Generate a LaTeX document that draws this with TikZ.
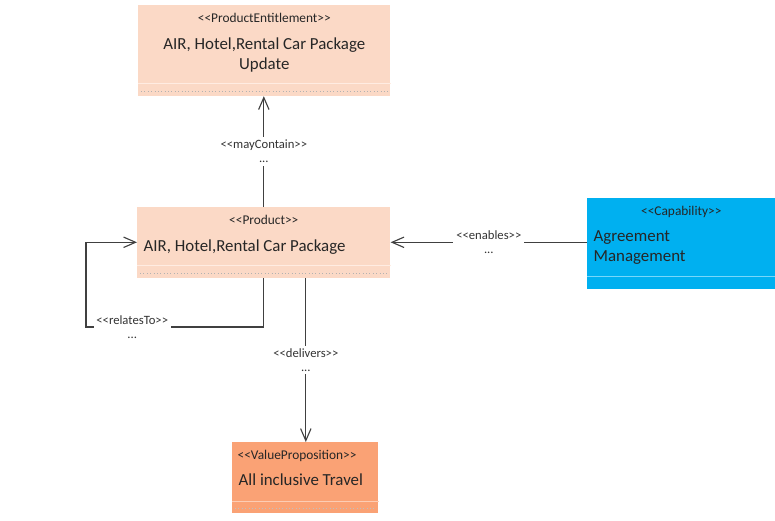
\documentclass[tikz,border=0pt]{standalone}
\usepackage{xcolor}
\usepackage{fontspec}
\setmainfont{Carlito}[Ligatures=TeXOff]
\usepackage{tikz}
\usetikzlibrary{arrows.meta,positioning,calc}

\definecolor{peach}{RGB}{251,217,198}
\definecolor{peachline}{RGB}{255,236,226}
\definecolor{capblue}{RGB}{0,176,240}
\definecolor{capline}{RGB}{120,215,250}
\definecolor{valorange}{RGB}{250,162,117}
\definecolor{valline}{RGB}{253,205,180}

\begin{document}
\begin{tikzpicture}[
    x=0.025cm, y=-0.025cm,
    head/.style={rectangle, inner sep=0pt, anchor=north west},
    comp/.style={rectangle, inner sep=0pt, minimum height=0.3cm},
    stereo/.style={font=\fontsize{9.5}{10.5}\selectfont, text=black!85, inner sep=1pt},
    title/.style={font=\fontsize{12}{14.2}\selectfont, text=black!85, inner sep=1pt},
    arrow/.style={-{Straight Barb[length=3mm, width=2.6mm]}, draw=black!75, line width=0.8pt},
    lbl/.style={font=\fontsize{9}{10}\selectfont, text=black!80, fill=white, align=center, inner sep=2pt},
  ]
    \useasboundingbox (0,0) rectangle (775,520);

    % classes
    \node[head, fill=peach, minimum width=6.3cm, minimum height=1.95cm] (ent) at (138,5) {};
    \node[comp, fill=peach, minimum width=6.3cm, below=0pt of ent] (entc) {};
    \node[stereo] (entst) at ($(ent.north)+(0,13)$) {<<ProductEntitlement>>};
    \node[title, align=center] (entnm) at ($(ent.north)+(0,50)$) {AIR, Hotel,Rental Car Package\\Update};

    \node[head, fill=peach, minimum width=6.325cm, minimum height=1.45cm] (prod) at (137,207) {};
    \node[comp, fill=peach, minimum width=6.325cm, below=0pt of prod] (prodc) {};
    \node[stereo] (prodst) at ($(prod.north)+(0,13)$) {<<Product>>};
    \node[title, anchor=west] (prodnm) at ($(prod.west)+(5,11)$) {AIR, Hotel,Rental Car Package};

    \node[head, fill=capblue, minimum width=4.7cm, minimum height=1.95cm] (cap) at (587,198) {};
    \node[comp, fill=capblue, minimum width=4.7cm, below=0pt of cap] (capc) {};
    \node[stereo] (capst) at ($(cap.north)+(0,14)$) {<<Capability>>};
    \node[title, anchor=west, align=left] (capnm) at ($(cap.west)+(5,10)$) {Agreement\\Management};

    \node[head, fill=valorange, minimum width=3.65cm, minimum height=1.475cm] (val) at (232,442) {};
    \node[comp, fill=valorange, minimum width=3.65cm, minimum height=0.275cm, below=0pt of val] (valc) {};
    \node[stereo, anchor=west] (valst) at ($(val.north west)+(4,14)$) {<<ValueProposition>>};
    \node[title, anchor=west] (valnm) at ($(val.north west)+(5,38)$) {All inclusive Travel};

    % compartment lines
    \draw[peachline, line width=1.2pt] (entc.north west) -- (entc.north east);
    \draw[black!30, dotted] ($(entc.west)+(3,1)$) -- ($(entc.east)+(-3,1)$);
    \draw[peachline, line width=1.2pt] (prodc.north west) -- (prodc.north east);
    \draw[black!30, dotted] ($(prodc.west)+(3,1)$) -- ($(prodc.east)+(-3,1)$);
    \draw[capline, line width=1.2pt] (capc.north west) -- (capc.north east);
    \draw[valline, line width=1.2pt] (valc.north west) -- (valc.north east);
    \draw[black!25, dotted] ($(valc.west)+(3,1)$) -- ($(valc.east)+(-3,1)$);

    % relations
    \coordinate (capout) at ($(cap.west)+(0,5)$);
    \coordinate (relin) at ($(prod.west)+(0,6)$);
    \coordinate (relcorner) at (86,327);
    \coordinate (delout) at ($(prodc.south)+(42,0)$);

    \draw[arrow] (prod.north) -- node[midway, lbl] {<<mayContain>>\\...} (prod.north |- entc.south);
    \draw[arrow] (capout) -- node[midway, lbl] {<<enables>>\\...} (capout -| prod.east);
    \draw[arrow] (prodc.south) |- node[pos=0.87, lbl] {<<relatesTo>>\\...} (relcorner) |- (relin);
    \draw[arrow] (delout) -- node[midway, lbl] {<<delivers>>\\...} (delout |- val.north);
  \end{tikzpicture}
\end{document}
